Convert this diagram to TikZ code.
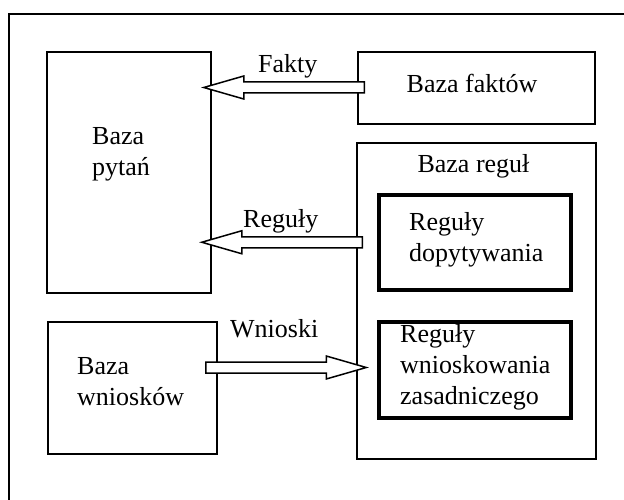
\documentclass[tikz,border=0pt]{standalone}
\usepackage{fontspec}
\setmainfont{Liberation Serif}
\usetikzlibrary{calc}

\tikzset{
  thinbox/.style={draw, line width=1.5pt, rectangle, inner sep=0pt, fill=white},
  thickbox/.style={draw, line width=3.5pt, rectangle, inner sep=0pt, fill=white},
  lbl/.style={inner sep=0pt, font=\fontsize{26}{31}\selectfont},
  mlbl/.style={lbl, align=left, anchor=north west},
  blockarrow/.style={draw, fill=white, line width=1.5pt, line join=miter},
}

% hollow block arrow from #1 (tail) to #2 (tip)
\newcommand\blockarrow[2]{%
  \path[blockarrow]
    ($(#1)!5.5pt!90:(#2)$) --
    ($(#2)!40pt!(#1)!5.5pt!90:(#2)$) --
    ($(#2)!40pt!(#1)!11.5pt!90:(#2)$) --
    (#2) --
    ($(#2)!40pt!(#1)!11.5pt!-90:(#2)$) --
    ($(#2)!40pt!(#1)!5.5pt!-90:(#2)$) --
    ($(#1)!5.5pt!-90:(#2)$) -- cycle;}

\begin{document}
\begin{tikzpicture}[x=1pt,y=-1pt]
  \path[use as bounding box] (0,0) rectangle (624,500);

  % outer frame
  \draw[line width=2pt] (9,502) -- (9,14) -- (626,14);

  % boxes
  \node[thinbox, minimum width=164pt, minimum height=241pt] (pytan) at (129,172.5) {};
  \node[thinbox, minimum width=237pt, minimum height=72pt] (faktow) at (476.5,88) {};
  \node[thinbox, minimum width=239pt, minimum height=316pt] (bazareg) at (476.5,301) {};
  \node[thickbox, minimum width=192pt, minimum height=95pt] (dopyt) at (475,242.5) {};
  \node[thickbox, minimum width=192pt, minimum height=96pt] (zasad) at (475,370) {};
  \node[thinbox, minimum width=169pt, minimum height=132pt] (wnioskow) at (132.5,388) {};

  % box texts
  \node[mlbl] (tpytan) at (92,127.5) {Baza\\pytań};
  \node[lbl, anchor=base] (tfaktow) at (472,93) {Baza faktów};
  \node[lbl, anchor=base] (tbazareg) at (473.5,172) {Baza reguł};
  \node[mlbl] (tdopyt) at (409,212.5) {Reguły\\dopytywania};
  \node[mlbl] (tzasad) at (400,324.5) {Reguły\\wnioskowania\\zasadniczego};
  \node[mlbl] (twnioskow) at (77,357.5) {Baza\\wniosków};

  % arrow end points
  \coordinate (faktyS) at ($(faktow.west)+(7,-0.5)$);
  \coordinate (faktyT) at ($(pytan.east |- faktyS)+(-8,0)$);
  \coordinate (regulyS) at ($(bazareg.north west)+(6,100)$);
  \coordinate (regulyT) at ($(pytan.east |- regulyS)+(-10,0)$);
  \coordinate (wnioskiS) at ($(wnioskow.east)+(-12,-20.5)$);
  \coordinate (wnioskiT) at ($(bazareg.west |- wnioskiS)+(10,0)$);

  % arrows
  \blockarrow{faktyS}{faktyT}
  \blockarrow{regulyS}{regulyT}
  \blockarrow{wnioskiS}{wnioskiT}

  % arrow labels
  \node[lbl, anchor=base west] (lfakty) at (258,73) {Fakty};
  \node[lbl, anchor=base west] (lreguly) at (243,227) {Reguły};
  \node[lbl, anchor=base west] (lwnioski) at (230,337) {Wnioski};
\end{tikzpicture}
\end{document}
